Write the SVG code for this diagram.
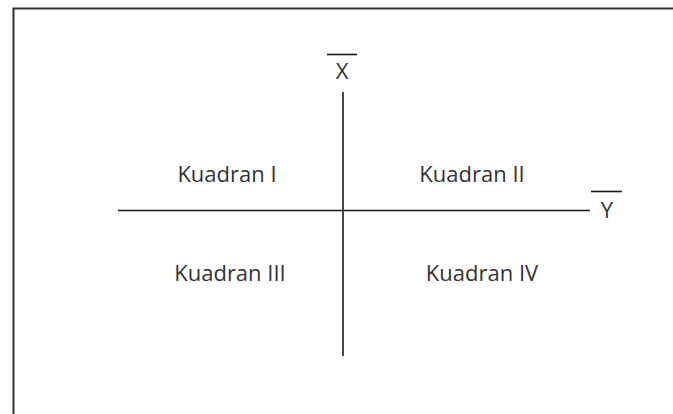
<svg xmlns="http://www.w3.org/2000/svg" width="673" height="414" viewBox="0 0 673 414">
<style>
.ax{stroke:#1a1a1a;stroke-width:1.6;fill:none}
.t{font-family:"Open Sans","Liberation Sans",sans-serif;font-size:22px;fill:#333;text-anchor:middle}
</style>
<rect width="673" height="414" fill="#fff"/>
<path d="M13.5,414 V8.5 H673" stroke="#333" stroke-width="2" fill="none"/>
<g id="connectors">
<line class="ax" x1="343" y1="92" x2="343" y2="356"/>
<line class="ax" x1="118" y1="210.5" x2="590" y2="210.5"/>
</g>
<g id="labelX">
<line class="ax" x1="327" y1="54.5" x2="357" y2="54.5"/>
<text class="t" x="342" y="79">X</text>
</g>
<g id="labelY">
<line class="ax" x1="591" y1="191.5" x2="622" y2="191.5"/>
<text class="t" x="607" y="218">Y</text>
</g>
<g id="q1"><text class="t" x="227" y="182">Kuadran I</text></g>
<g id="q2"><text class="t" x="472" y="182">Kuadran II</text></g>
<g id="q3"><text class="t" x="230" y="281">Kuadran III</text></g>
<g id="q4"><text class="t" x="482" y="281">Kuadran IV</text></g>
</svg>
